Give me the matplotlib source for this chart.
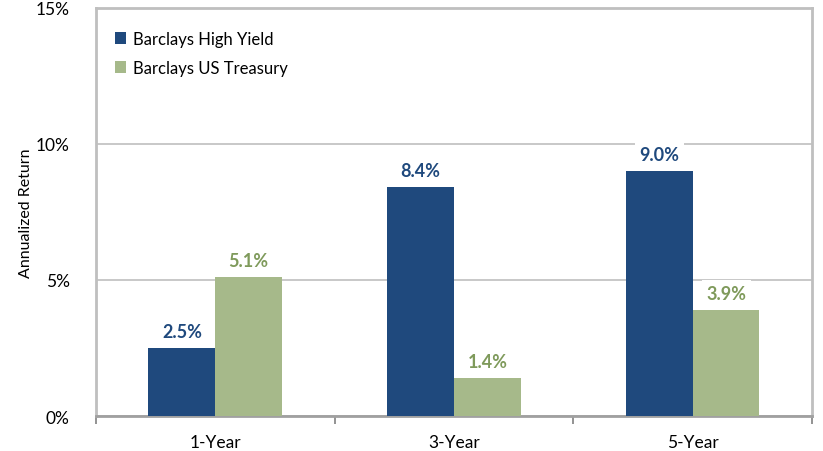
import matplotlib
matplotlib.use("Agg")
import matplotlib.pyplot as plt
import numpy as np
from matplotlib.ticker import FuncFormatter

categories = ["1-Year", "3-Year", "5-Year"]
high_yield = [2.5, 8.4, 9.0]
treasury = [5.1, 1.4, 3.9]
series_names = ["Barclays High Yield", "Barclays US Treasury"]

blue = "#1F497D"
green = "#A6B98A"
green_txt = "#7F9A5B"
frame = "#BFBFBF"

plt.rcParams['font.family'] = ['Lato', 'DejaVu Sans']

fig = plt.figure(figsize=(8.23, 4.52), dpi=100)
ax = fig.add_axes([0.1166, 0.0774, 0.870, 0.903])

x = np.arange(len(categories))
w = 0.28
b1 = ax.bar(x - w / 2, high_yield, w, color=blue, label=series_names[0], zorder=3)
b2 = ax.bar(x + w / 2, treasury, w, color=green, label=series_names[1], zorder=3)

for bars, vals, col in [(b1, high_yield, blue), (b2, treasury, green_txt)]:
    for r, v in zip(bars, vals):
        ax.annotate(f"{v:.1f}%", (r.get_x() + r.get_width() / 2, v),
                    xytext=(0, 6), textcoords="offset points", ha="center", va="bottom",
                    fontsize=13, fontweight="bold", color=col, zorder=4,
                    bbox=dict(boxstyle="square,pad=0.25", fc="white", ec="none"))

ax.set_xlim(-0.5, 2.5)
ax.set_ylim(0, 15)
ax.set_yticks([0, 5, 10, 15])
ax.yaxis.set_major_formatter(FuncFormatter(lambda v, p: f"{v:.0f}%"))
ax.yaxis.grid(True, color=frame, lw=1.2, zorder=0)
ax.tick_params(axis="y", length=0, pad=19, labelsize=12.5)

ax.set_xticks(x)
ax.set_xticklabels(categories)
ax.set_xticks([-0.5, 0.5, 1.5, 2.5], minor=True)
ax.tick_params(axis="x", which="major", length=0, pad=13, labelsize=12.5)
ax.tick_params(axis="x", which="minor", length=6, width=1.2, color="#808080", direction="out")

for s in ax.spines.values():
    s.set_color(frame)
    s.set_linewidth(2)
ax.spines["bottom"].set_color("#A0A0A0")

ax.set_ylabel("Annualized Return", fontsize=11.5, labelpad=2)

ax.legend(loc="upper left", bbox_to_anchor=(0.005, 0.98), frameon=False, fontsize=12,
          handlelength=0.7, handleheight=0.7, handletextpad=0.4, labelspacing=0.75)

fig.savefig("out.png", dpi=100)
